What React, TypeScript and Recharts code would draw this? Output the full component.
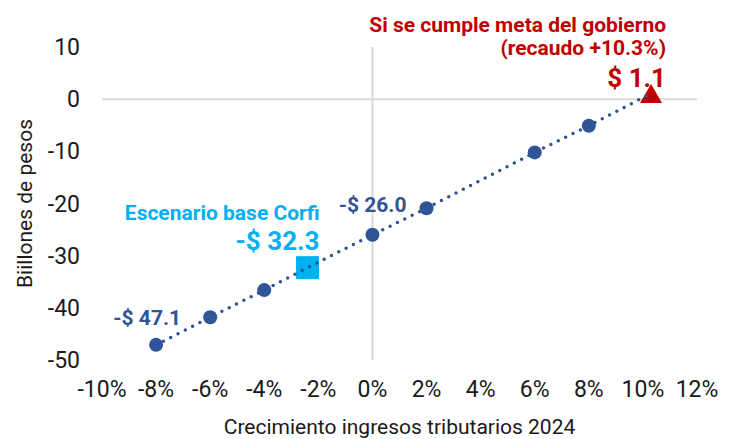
import React from "react";
import { ScatterChart, Scatter, XAxis, YAxis, ReferenceLine, Label } from "recharts";

// Crecimiento de ingresos tributarios (%) vs. resultado (billones de pesos)
const growth = [-8, -6, -4, 0, 2, 6, 8];
const balance = [-47.1, -41.8, -36.6, -26.0, -20.9, -10.2, -5.1];
const notes = ["-$ 47.1", "", "", "-$ 26.0", "", "", ""];

const baseGrowth = -2.4;
const baseBalance = -32.3;
const baseTitle = "Escenario base Corfi";
const baseNote = "-$ 32.3";

const govGrowth = 10.3;
const govBalance = 1.1;
const govTitle = ["Si se cumple meta del gobierno", "(recaudo +10.3%)"];
const govNote = "$ 1.1";

const xTicks = [-10, -8, -6, -4, -2, 0, 2, 4, 6, 8, 10, 12];
const yTicks = [-50, -40, -30, -20, -10, 0, 10];

const BLUE = "#2F5597";
const CYAN = "#00B0F0";
const RED = "#C00000";
const INK = "#1a1a1a";
const FONT = "Roboto, sans-serif";

const circles = growth.map((x, i) => ({ x, y: balance[i], note: notes[i] }));
const base = [{ x: baseGrowth, y: baseBalance }];
const gov = [{ x: govGrowth, y: govBalance }];
const trail = [...circles, ...base, ...gov].sort((a, b) => a.x - b.x);

const CircleShape = (p: any) => (
  <g>
    <circle cx={p.cx} cy={p.cy} r={7} fill={BLUE} />
    {p.payload.note ? (
      <text
        x={p.cx + (p.payload.x < -4 ? 25 : 34)}
        y={p.cy - (p.payload.x < -4 ? 27 : 30)}
        dy="0.355em"
        textAnchor="end"
        fill={BLUE}
        fontSize={21}
        fontWeight={700}
        fontFamily={FONT}
      >
        {p.payload.note}
      </text>
    ) : null}
  </g>
);

const SquareShape = (p: any) => (
  <g>
    <rect x={p.cx - 11.5} y={p.cy - 11.5} width={23} height={23} fill={CYAN} />
    <text x={p.cx + 12} y={p.cy - 55} dy="0.355em" textAnchor="end" fill={CYAN} fontSize={21} fontWeight={700} fontFamily={FONT}>
      {baseTitle}
    </text>
    <text x={p.cx + 12} y={p.cy - 27} dy="0.355em" textAnchor="end" fill={CYAN} fontSize={26} fontWeight={700} fontFamily={FONT}>
      {baseNote}
    </text>
  </g>
);

const TriangleShape = (p: any) => (
  <g>
    <polygon
      points={`${p.cx},${p.cy - 9.5} ${p.cx + 11},${p.cy + 9.5} ${p.cx - 11},${p.cy + 9.5}`}
      fill={RED}
    />
    <text x={p.cx + 15} y={p.cy - 69} dy="0.355em" textAnchor="end" fill={RED} fontSize={21} fontWeight={700} fontFamily={FONT}>
      {govTitle[0]}
    </text>
    <text x={p.cx + 15} y={p.cy - 46} dy="0.355em" textAnchor="end" fill={RED} fontSize={21} fontWeight={700} fontFamily={FONT}>
      {govTitle[1]}
    </text>
    <text x={p.cx + 15} y={p.cy - 16} dy="0.355em" textAnchor="end" fill={RED} fontSize={26} fontWeight={700} fontFamily={FONT}>
      {govNote}
    </text>
  </g>
);

export default function App() {
  return (
    <div style={{ position: "absolute", left: 0, top: 0, background: "#fff" }}>
      <ScatterChart width={735} height={439} margin={{ top: 47, right: 38, bottom: 0, left: 0 }}>
        <XAxis
          type="number"
          dataKey="x"
          domain={[-10, 12]}
          ticks={xTicks}
          tickFormatter={(v: number) => `${v}%`}
          axisLine={false}
          tickLine={false}
          tickSize={0}
          tickMargin={21}
          height={79}
          tick={{ fill: INK, fontSize: 23, fontFamily: FONT }}
          interval={0}
        >
          <Label
            content={({ viewBox }: any) => (
              <text x={viewBox.x + viewBox.width / 2} y={427} dy="0.355em" textAnchor="middle" fill={INK} fontSize={21} fontFamily={FONT}>
                Crecimiento ingresos tributarios 2024
              </text>
            )}
          />
        </XAxis>
        <YAxis
          type="number"
          dataKey="y"
          domain={[-50, 10]}
          ticks={yTicks}
          axisLine={false}
          tickLine={false}
          tickSize={0}
          tickMargin={22}
          width={102}
          tick={{ fill: INK, fontSize: 23, fontFamily: FONT }}
          interval={0}
        >
          <Label
            content={({ viewBox }: any) => {
              const cy = viewBox.y + viewBox.height / 2;
              return (
                <text x={25} y={cy} dy="0.355em" textAnchor="middle" transform={`rotate(-90 25 ${cy})`} fill={INK} fontSize={21} fontFamily={FONT}>
                  Biillones de pesos
                </text>
              );
            }}
          />
        </YAxis>
        <ReferenceLine y={0} stroke="#D9D9D9" strokeWidth={2} />
        <ReferenceLine x={0} stroke="#D9D9D9" strokeWidth={2} />
        <Scatter data={base} shape={SquareShape} isAnimationActive={false} />
        <Scatter data={gov} shape={TriangleShape} isAnimationActive={false} />
        <Scatter
          data={trail}
          shape={() => <g />}
          line={{ stroke: BLUE, strokeWidth: 3.5, strokeDasharray: "0 8.2", strokeLinecap: "round" }}
          lineType="joint"
          isAnimationActive={false}
        />
        <Scatter data={circles} shape={CircleShape} isAnimationActive={false} />
      </ScatterChart>
    </div>
  );
}
